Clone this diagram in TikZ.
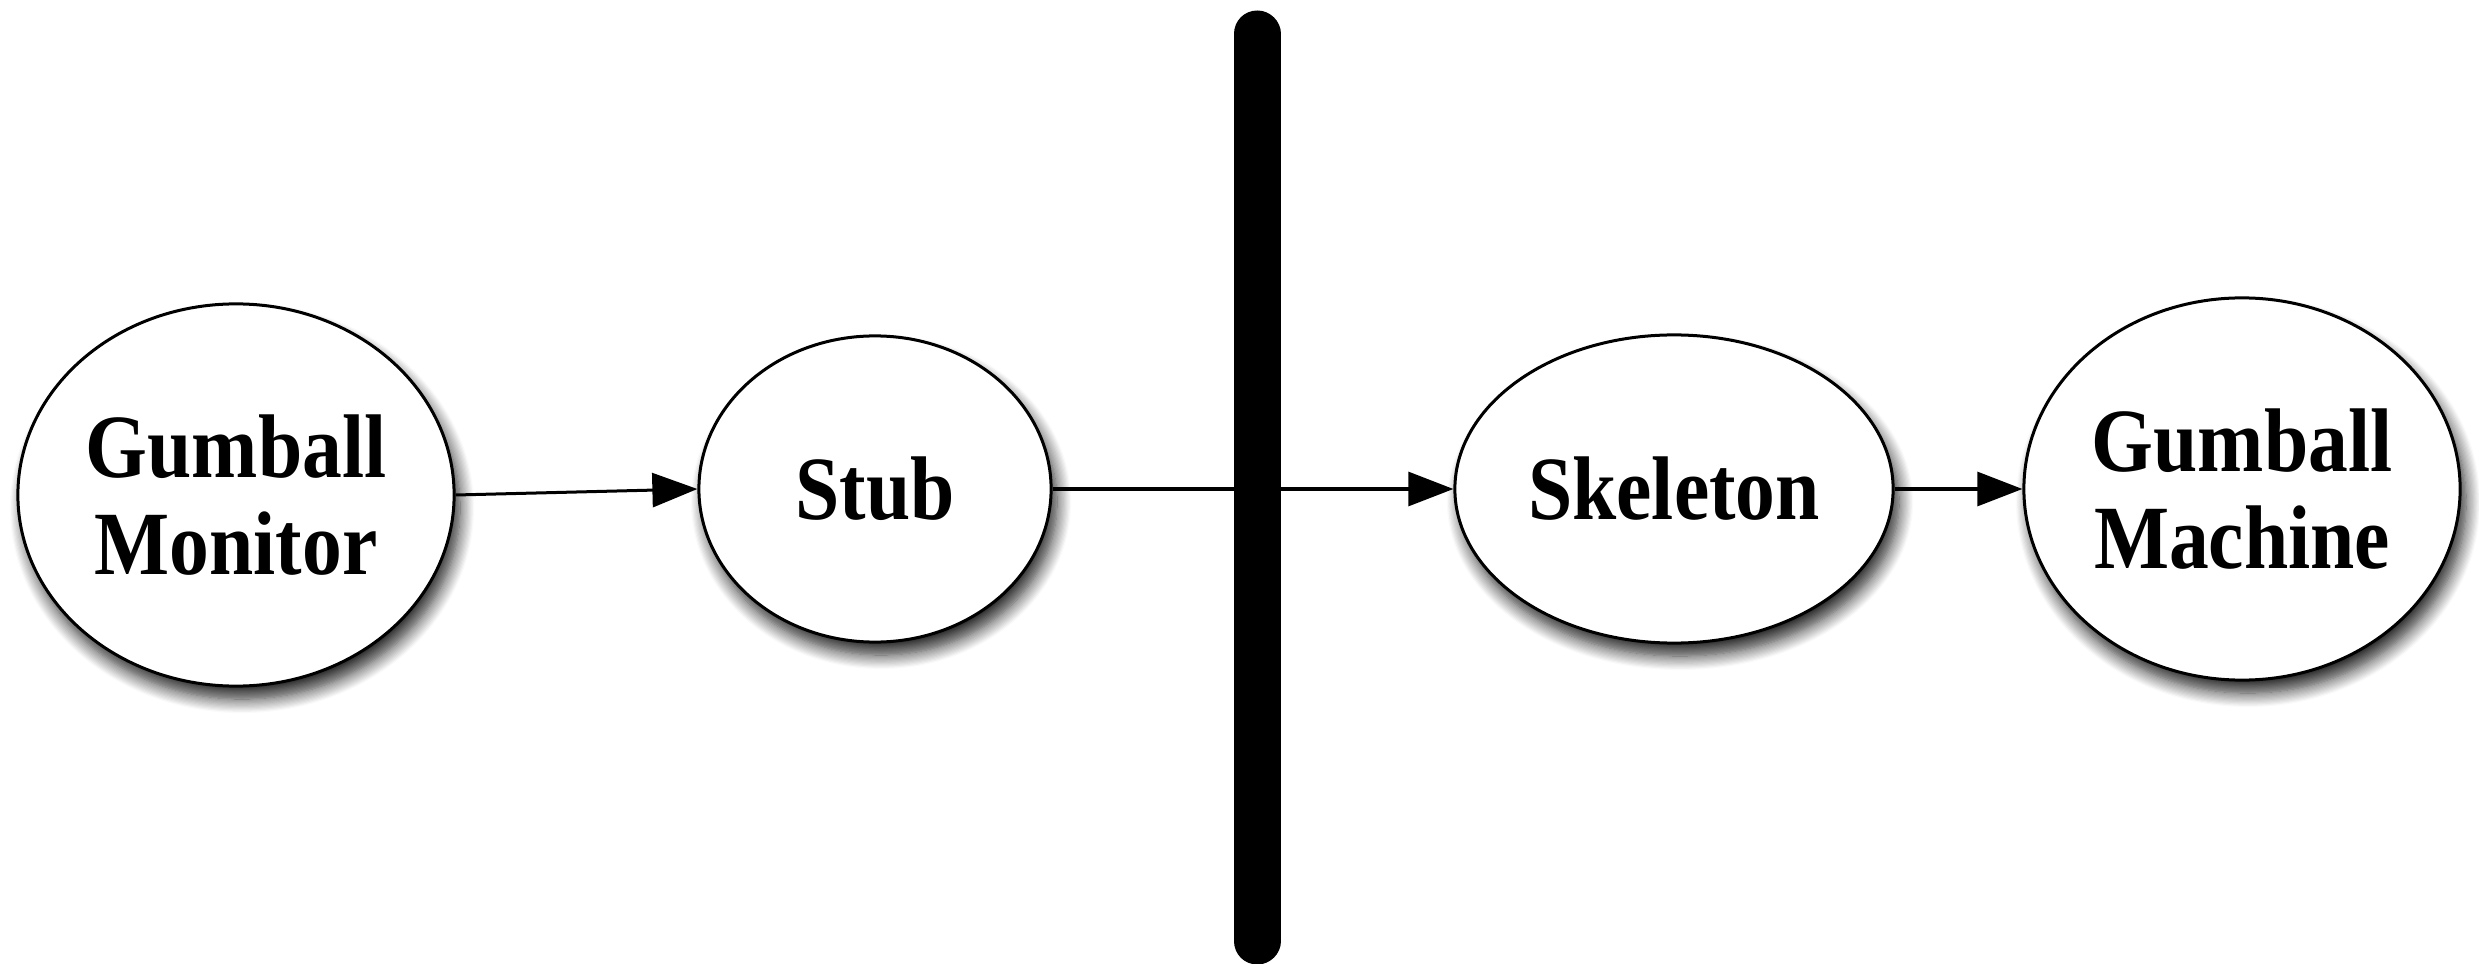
\documentclass[tikz,border=0pt]{standalone}
\usepackage{fontspec}
\usepackage{tikz}
\usetikzlibrary{shapes.geometric,arrows.meta,shadows.blur}
\newfontfamily\boxfont[FakeStretch=0.88]{Liberation Serif}

\begin{document}
\begin{tikzpicture}
[x=0.01cm, y=-0.01cm,
 obj/.style={ellipse, draw=black, line width=0.03cm, fill=white, inner sep=0pt, align=center,
   font=\boxfont\bfseries\fontsize{25.7}{27.6}\selectfont,
   blur shadow={shadow xshift=0.06cm, shadow yshift=-0.13cm, shadow blur radius=0.14cm, shadow blur steps=12, shadow opacity=85}},
 link/.style={-{Triangle[length=0.45cm, width=0.34cm]}, line width=0.03cm}]

\useasboundingbox (0,0) rectangle (2479,964);

\node[obj, minimum width=4.36cm, minimum height=3.82cm] (monitor) at (236,495) {Gumball \\ Monitor};
\node[obj, minimum width=3.52cm, minimum height=3.06cm] (stub) at (875,489) {Stub};
\node[obj, minimum width=4.38cm, minimum height=3.08cm] (skeleton) at (1674,489) {Skeleton};
\node[obj, minimum width=4.36cm, minimum height=3.82cm] (machine) at (2242,489) {Gumball \\ Machine};

\draw[link] (monitor.east) -- (stub.west);
\draw[link] (stub) -- (skeleton);
\draw[link] (skeleton) -- (machine);

% network boundary
\coordinate (bartop) at (1257,34);
\coordinate (barbottom) at (1257,941);
\draw[line width=0.47cm, line cap=round] (bartop) -- (barbottom);
\end{tikzpicture}
\end{document}
